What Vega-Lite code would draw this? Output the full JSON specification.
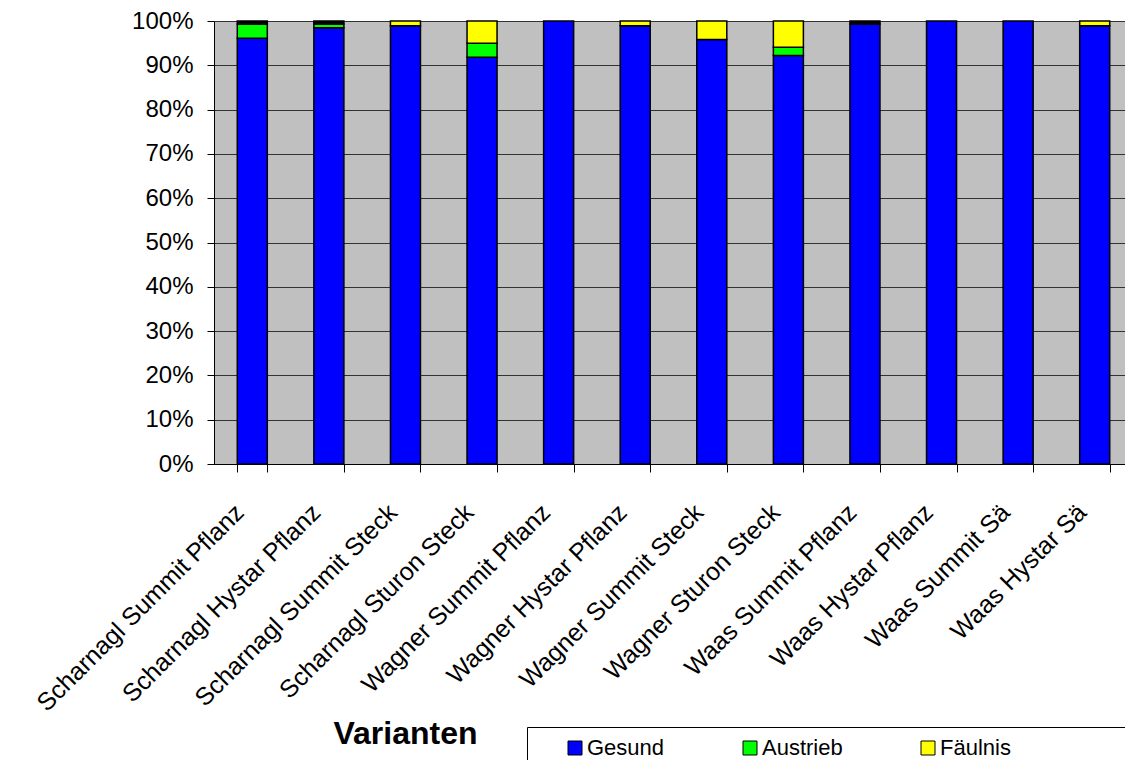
{
  "$schema": "https://vega.github.io/schema/vega-lite/v6.json",
  "autosize": {"type": "none"},
  "padding": {"left": 214, "top": 21, "right": 0, "bottom": 296},
  "width": 911,
  "height": 443,
  "background": "white",
  "config": {
    "font": "Liberation Sans",
    "view": {"fill": "#C0C0C0", "stroke": "#808080", "strokeWidth": 1}
  },
  "data": {
    "values": [
      {"Variante": "Scharnagl Summit Pflanz", "Kategorie": "Gesund", "Nr": 1, "Anteil": 96.1},
      {"Variante": "Scharnagl Summit Pflanz", "Kategorie": "Austrieb", "Nr": 2, "Anteil": 3.2},
      {"Variante": "Scharnagl Summit Pflanz", "Kategorie": "Sonstige", "Nr": 4, "Anteil": 0.7},
      {"Variante": "Scharnagl Hystar Pflanz", "Kategorie": "Gesund", "Nr": 1, "Anteil": 98.5},
      {"Variante": "Scharnagl Hystar Pflanz", "Kategorie": "Austrieb", "Nr": 2, "Anteil": 0.8},
      {"Variante": "Scharnagl Hystar Pflanz", "Kategorie": "Sonstige", "Nr": 4, "Anteil": 0.7},
      {"Variante": "Scharnagl Summit Steck", "Kategorie": "Gesund", "Nr": 1, "Anteil": 98.9},
      {"Variante": "Scharnagl Summit Steck", "Kategorie": "Fäulnis", "Nr": 3, "Anteil": 1.1},
      {"Variante": "Scharnagl Sturon Steck", "Kategorie": "Gesund", "Nr": 1, "Anteil": 91.8},
      {"Variante": "Scharnagl Sturon Steck", "Kategorie": "Austrieb", "Nr": 2, "Anteil": 3.2},
      {"Variante": "Scharnagl Sturon Steck", "Kategorie": "Fäulnis", "Nr": 3, "Anteil": 5.0},
      {"Variante": "Wagner Summit Pflanz", "Kategorie": "Gesund", "Nr": 1, "Anteil": 100},
      {"Variante": "Wagner Hystar Pflanz", "Kategorie": "Gesund", "Nr": 1, "Anteil": 98.9},
      {"Variante": "Wagner Hystar Pflanz", "Kategorie": "Fäulnis", "Nr": 3, "Anteil": 1.1},
      {"Variante": "Wagner Summit Steck", "Kategorie": "Gesund", "Nr": 1, "Anteil": 95.8},
      {"Variante": "Wagner Summit Steck", "Kategorie": "Fäulnis", "Nr": 3, "Anteil": 4.2},
      {"Variante": "Wagner Sturon Steck", "Kategorie": "Gesund", "Nr": 1, "Anteil": 92.2},
      {"Variante": "Wagner Sturon Steck", "Kategorie": "Austrieb", "Nr": 2, "Anteil": 1.9},
      {"Variante": "Wagner Sturon Steck", "Kategorie": "Fäulnis", "Nr": 3, "Anteil": 5.9},
      {"Variante": "Waas Summit Pflanz", "Kategorie": "Gesund", "Nr": 1, "Anteil": 99.3},
      {"Variante": "Waas Summit Pflanz", "Kategorie": "Sonstige", "Nr": 4, "Anteil": 0.7},
      {"Variante": "Waas Hystar Pflanz", "Kategorie": "Gesund", "Nr": 1, "Anteil": 100},
      {"Variante": "Waas Summit Sä", "Kategorie": "Gesund", "Nr": 1, "Anteil": 100},
      {"Variante": "Waas Hystar Sä", "Kategorie": "Gesund", "Nr": 1, "Anteil": 98.9},
      {"Variante": "Waas Hystar Sä", "Kategorie": "Fäulnis", "Nr": 3, "Anteil": 1.1}
    ]
  },
  "mark": {"type": "bar", "stroke": "black", "strokeWidth": 1.5, "strokeJoin": "miter"},
  "encoding": {
    "x": {
      "field": "Variante",
      "type": "nominal",
      "sort": null,
      "scale": {"range": [0, 919], "paddingInner": 0.608, "paddingOuter": 0.304},
      "axis": {
        "title": "Varianten",
        "titleFont": "Liberation Sans",
        "titleFontSize": 32,
        "titleFontWeight": "bold",
        "titleColor": "black",
        "titleX": 191,
        "titleY": 269,
        "titleAlign": "center",
        "titleBaseline": "middle",
        "labelAngle": -45,
        "labelAlign": "right",
        "labelBaseline": "middle",
        "labelFontSize": 25,
        "labelColor": "black",
        "labelPadding": 36,
        "labelOffset": -13,
        "labelLimit": 400,
        "labelOverlap": false,
        "tickBand": "extent",
        "tickSize": 8,
        "tickColor": "black",
        "domainColor": "black",
        "domainWidth": 1,
        "grid": false
      }
    },
    "y": {
      "field": "Anteil",
      "type": "quantitative",
      "stack": "zero",
      "scale": {"domain": [0, 100], "nice": false, "zero": true},
      "axis": {
        "title": null,
        "values": [0, 10, 20, 30, 40, 50, 60, 70, 80, 90, 100],
        "labelExpr": "datum.value + '%'",
        "labelFontSize": 24,
        "labelColor": "black",
        "labelPadding": 14,
        "tickSize": 7,
        "tickColor": "black",
        "domainColor": "black",
        "grid": true,
        "gridColor": "#333333",
        "gridWidth": 1
      }
    },
    "color": {
      "field": "Kategorie",
      "type": "nominal",
      "scale": {
        "domain": ["Gesund", "Austrieb", "Fäulnis", "Sonstige"],
        "range": ["#0000FF", "#00FF00", "#FFFF00", "#000000"]
      },
      "legend": {
        "title": null,
        "values": ["Gesund", "Austrieb", "Fäulnis"],
        "orient": "none",
        "direction": "horizontal",
        "columns": 3,
        "legendX": 313,
        "legendY": 706,
        "padding": 10,
        "symbolOffset": 27,
        "symbolType": "square",
        "symbolSize": 196,
        "symbolStrokeColor": "black",
        "symbolStrokeWidth": 1,
        "labelFontSize": 22,
        "labelColor": "black",
        "labelOffset": 1,
        "labelLimit": 500,
        "columnPadding": 47,
        "strokeColor": "black",
        "fillColor": "white",
        "labelExpr": "datum.label == 'Fäulnis' ? 'Fäulnis\u00a0\u00a0\u00a0\u00a0\u00a0\u00a0\u00a0\u00a0\u00a0\u00a0\u00a0\u00a0\u00a0\u00a0\u00a0\u00a0\u00a0\u00a0\u00a0\u00a0\u00a0\u00a0\u200b' : datum.label"
      }
    },
    "order": {"field": "Nr", "type": "quantitative", "sort": "ascending"}
  }
}
